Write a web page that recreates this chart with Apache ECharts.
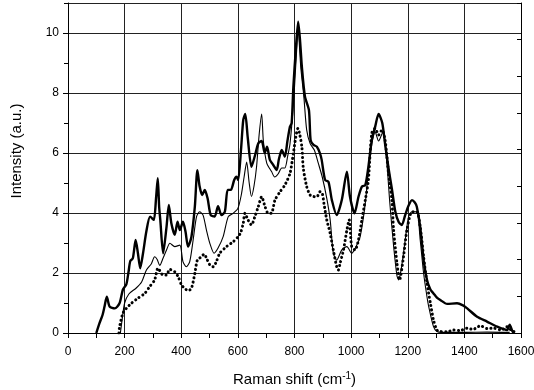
<!DOCTYPE html>
<html>
<head>
<meta charset="utf-8">
<script src="https://cdn.jsdelivr.net/npm/echarts@6/dist/echarts.min.js"></script>
<style>
  html, body { margin: 0; padding: 0; background: #fff; }
  #chart { width: 534px; height: 390px; }
</style>
</head>
<body>
<div id="chart"></div>
<script>
// Raman spectra: [shift (cm^-1), intensity (a.u.)]
const thickTrace = [
  [100,0],[111,0.32],[122,0.6],[129,0.88],[137,1.21],[147,0.88],[165,0.82],[182,0.99],[194,1.45],[206,1.62],
  [214,2.05],[220,2.4],[229,2.49],[239,3.1],[247,2.66],[255,2.16],[265,2.66],[277,3.4],[290,3.88],[303,3.77],
  [311,4.5],[317,5.16],[322,4.2],[326,3.77],[336,2.66],[348,3.54],[356,4.27],[365,3.66],[377,3.27],[387,3.71],
  [395,3.43],[406,3.71],[415,3.38],[424,2.88],[436,3.21],[448,4.21],[457,5.43],[465,4.88],[474,4.6],[483,4.77],
  [493,4.49],[504,3.93],[518,3.88],[530,4.23],[542,3.93],[554,4.04],[564,4.77],[575,4.77],[587,5.1],[595,5.21],
  [601,5.1],[611,6.1],[619,7.1],[626,7.3],[635,6.5],[648,5.54],[660,5.9],[672,6.32],[684,6.4],[695,6.0],
  [703,6.21],[713,5.77],[725,5.6],[737,5.43],[745,5.8],[755,6.1],[766,5.88],[775,6.4],[784,6.88],[790,7.0],
  [796,8.21],[805,9.5],[813,10.38],[820,9.7],[826,8.88],[837,7.88],[851,7.43],[857,6.43],[867,6.27],[879,6.21],
  [890,5.99],[896,5.77],[908,5.1],[920,5.04],[932,4.43],[949,3.93],[967,4.43],[985,5.38],[996,4.54],[1012,3.99],
  [1026,4.54],[1038,4.88],[1050,4.93],[1061,5.54],[1073,6.43],[1085,6.88],[1097,7.3],[1110,7.0],[1120,6.3],[1132,5.5],
  [1144,4.8],[1156,4.05],[1168,3.7],[1179,3.6],[1190,3.9],[1203,4.25],[1215,4.43],[1225,4.35],[1232,4.21],[1244,3.54],
  [1256,2.43],[1268,1.77],[1280,1.45],[1291,1.32],[1303,1.18],[1315,1.1],[1339,0.97],[1374,0.99],[1395,0.92],[1410,0.82],
  [1445,0.54],[1480,0.38],[1516,0.21],[1551,0.1],[1560,0.28],[1570,0.05],[1575,0]
];

const thinTrace = [
  [185,0],[192,0.5],[200,1.0],[215,1.3],[241,1.5],[260,1.7],[277,2.1],[294,2.3],[306,2.54],[315,2.45],
  [324,2.25],[336,2.5],[348,2.77],[360,2.99],[377,2.88],[395,2.93],[406,2.38],[418,2.21],[430,2.38],[442,3.1],
  [454,3.88],[465,4.04],[477,3.93],[489,3.43],[501,2.99],[516,2.66],[530,2.83],[548,3.21],[566,3.88],[583,3.99],
  [600,4.15],[612,4.6],[622,5.2],[631,5.7],[640,5.0],[648,4.55],[657,4.9],[666,5.54],[675,6.6],[684,7.3],
  [690,6.4],[702,5.66],[719,5.38],[730,5.2],[742,5.3],[755,5.5],[766,5.5],[776,5.9],[784,6.3],[796,7.6],
  [805,9.0],[813,10.1],[822,8.88],[833,7.88],[843,6.77],[855,6.32],[870,6.1],[884,5.66],[898,5.2],[914,4.49],
  [926,3.77],[937,2.66],[949,2.43],[967,2.77],[985,2.88],[1002,2.66],[1020,2.93],[1032,3.21],[1050,4.32],[1062,5.5],
  [1073,6.3],[1085,6.7],[1097,6.4],[1112,6.7],[1125,5.8],[1137,4.3],[1150,2.9],[1162,1.9],[1168,1.77],[1178,2.2],
  [1191,3.1],[1203,3.88],[1215,4.04],[1232,4.04],[1244,3.1],[1256,1.99],[1268,1.2],[1274,0.88],[1291,0.21],[1303,0.05],
  [1320,0.02],[1400,0.02],[1480,0.03],[1560,0.02]
];

const dottedTrace = [
  [180,0],[182,0.2],[194,0.66],[206,0.82],[224,0.99],[247,1.16],[271,1.32],[288,1.54],[306,1.77],[318,2.16],
  [336,1.93],[348,1.93],[359,2.12],[377,2.04],[389,1.88],[401,1.6],[412,1.49],[424,1.41],[436,1.49],[448,1.99],
  [457,2.43],[471,2.54],[481,2.63],[489,2.5],[501,2.27],[513,2.21],[524,2.38],[536,2.66],[560,2.88],[583,3.04],
  [601,3.21],[610,3.35],[619,3.66],[625,3.99],[636,3.77],[648,3.6],[660,3.88],[672,4.21],[684,4.54],[696,4.21],
  [707,3.99],[719,4.0],[731,4.43],[749,4.71],[766,4.93],[784,5.32],[796,5.99],[804,6.5],[812,6.82],[819,6.6],
  [826,6.2],[831,5.5],[843,4.88],[855,4.6],[867,4.55],[879,4.54],[890,4.71],[898,4.66],[904,4.32],[914,3.77],
  [926,3.32],[937,2.77],[949,2.21],[955,2.1],[961,2.32],[973,2.77],[985,3.43],[993,3.77],[1002,2.88],[1014,2.77],
  [1026,3.1],[1038,3.77],[1050,4.43],[1061,5.1],[1073,6.66],[1085,6.82],[1097,6.6],[1109,6.77],[1120,6.43],[1132,5.32],
  [1144,4.43],[1150,3.43],[1162,2.32],[1171,1.77],[1185,2.54],[1197,3.43],[1215,4.04],[1232,4.04],[1244,3.54],[1256,2.54],
  [1268,1.66],[1280,0.99],[1291,0.43],[1303,0.1],[1315,0.05],[1340,0.04],[1362,0.1],[1385,0.08],[1410,0.16],[1430,0.12],
  [1457,0.24],[1480,0.15],[1504,0.16],[1530,0.1],[1551,0.21],[1565,0.1],[1575,0.05]
];

// Axis ranges
const shiftRange = [0, 1600];
const shiftStep = 200;
const intensityRange = [0, 11];
const intensityStep = 2;

const FONT = '"Liberation Sans", Arial, sans-serif';
const INK = '#000';
const plain = v => String(v);

const chart = echarts.init(document.getElementById('chart'), null, { renderer: 'canvas' });

chart.setOption({
  animation: false,
  backgroundColor: '#fff',
  grid: { left: 68, right: 13, top: 3, bottom: 57, containLabel: false, outerBoundsMode: 'none' },
  xAxis: [
    {
      type: 'value', position: 'bottom',
      min: shiftRange[0], max: shiftRange[1], interval: shiftStep,
      name: 'Raman shift (cm{sup|-1})',
      nameLocation: 'middle', nameGap: 38,
      nameTextStyle: {
        fontFamily: FONT, fontSize: 15, color: INK,
        rich: { sup: { fontFamily: FONT, fontSize: 10, color: INK, verticalAlign: 'top', padding: [0, 0, 8, 0] } }
      },
      axisLine: { show: true, lineStyle: { color: INK, width: 1 } },
      axisTick: { show: true, length: 5, lineStyle: { color: INK } },
      minorTick: { show: true, splitNumber: 2, length: 5, lineStyle: { color: INK } },
      axisLabel: { fontFamily: FONT, fontSize: 12, color: INK, margin: 13, formatter: plain },
      splitLine: { show: true, lineStyle: { color: '#222', width: 1 } }
    },
    {
      type: 'value', position: 'top',
      min: shiftRange[0], max: shiftRange[1], interval: shiftStep,
      axisLine: { show: true, lineStyle: { color: INK, width: 1 } },
      axisTick: { show: true, inside: true, length: 4, lineStyle: { color: INK } },
      minorTick: { show: true, splitNumber: 2, length: 4, lineStyle: { color: INK } },
      axisLabel: { show: false },
      splitLine: { show: false }
    }
  ],
  yAxis: [
    {
      type: 'value', position: 'left',
      min: intensityRange[0], max: intensityRange[1], interval: intensityStep,
      name: 'Intensity (a.u.)',
      nameLocation: 'middle', nameGap: 44,
      nameTextStyle: { fontFamily: FONT, fontSize: 15, color: INK, padding: [0, 0, 0, 34] },
      axisLine: { show: true, lineStyle: { color: INK, width: 1 } },
      axisTick: { show: true, length: 5, lineStyle: { color: INK } },
      axisLabel: { fontFamily: FONT, fontSize: 12, color: INK, margin: 9, showMaxLabel: false, formatter: plain },
      splitLine: { show: true, lineStyle: { color: '#222', width: 1 } }
    },
    {
      // odd-value ticks on the left axis
      type: 'value', position: 'left',
      min: intensityRange[0], max: intensityRange[1], interval: 1,
      axisLine: { show: false },
      axisTick: { show: true, length: 4, lineStyle: { color: INK } },
      axisLabel: { show: false },
      splitLine: { show: false }
    },
    {
      // right frame with its own inward ticks
      type: 'value', position: 'right',
      min: 0, max: 9, interval: 1,
      axisLine: { show: true, lineStyle: { color: INK, width: 1 } },
      axisTick: { show: true, inside: true, length: 4, lineStyle: { color: INK } },
      axisLabel: { show: false },
      splitLine: { show: false }
    }
  ],
  series: [
    {
      name: 'thick', type: 'line', xAxisIndex: 0, yAxisIndex: 0,
      data: thickTrace, showSymbol: false, smooth: 0.25,
      lineStyle: { color: INK, width: 2.4, join: 'round' }
    },
    {
      name: 'thin', type: 'line', xAxisIndex: 0, yAxisIndex: 0,
      data: thinTrace, showSymbol: false, smooth: 0.25,
      lineStyle: { color: INK, width: 1.1, join: 'round' }
    },
    {
      name: 'dotted', type: 'line', xAxisIndex: 0, yAxisIndex: 0,
      data: dottedTrace, showSymbol: false, smooth: 0.25,
      lineStyle: { color: INK, width: 3, type: [0.1, 4.2], cap: 'round' }
    }
  ]
});
</script>
</body>
</html>
